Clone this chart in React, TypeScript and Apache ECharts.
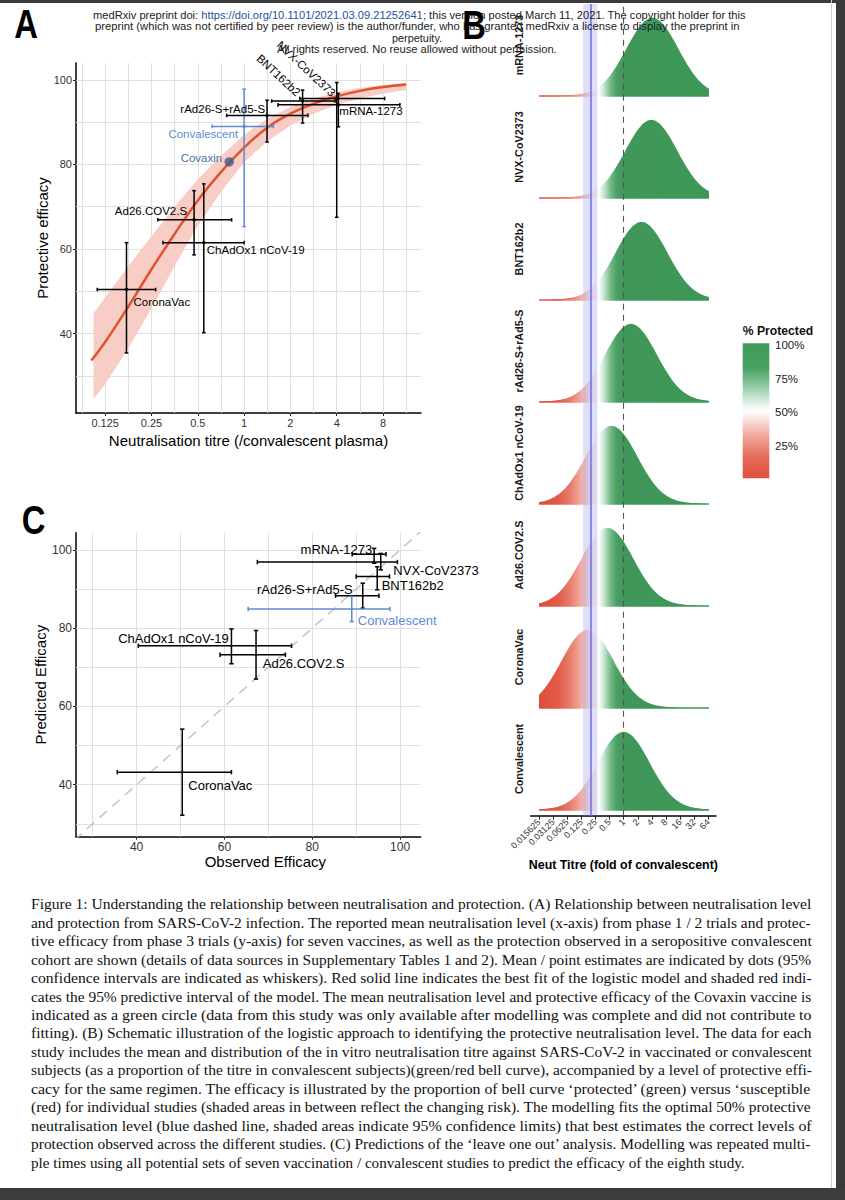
import React, { useEffect, useRef } from 'react';
import * as echarts from 'echarts';

/* ============================ DATA ============================ */
// ---- Panel A: neutralisation titre (fold of convalescent) vs protective efficacy (%)
const aNames = ['CoronaVac', 'Ad26.COV2.S', 'ChAdOx1 nCoV-19', 'Convalescent', 'rAd26-S+rAd5-S', 'BNT162b2', 'NVX-CoV2373', 'mRNA-1273'];
const aTitre = [0.172, 0.473, 0.547, 1.0, 1.41, 2.4, 4.0, 4.1];
const aTitreLo = [0.111, 0.275, 0.297, 0.62, 0.77, 1.51, 2.3, 1.66];
const aTitreHi = [0.266, 0.83, 1.0, 1.55, 2.6, 3.9, 8.2, 10.3];
const aEff = [50.4, 66.9, 61.5, 89.0, 91.6, 95.0, 95.6, 94.1];
const aEffLo = [35.4, 58.6, 40.2, 65.3, 85.3, 89.8, 67.5, 88.9];
const aEffHi = [61.5, 73.8, 75.4, 97.8, 95.2, 97.6, 99.4, 96.8];
const covaxinNames = ['Covaxin'];
const covaxinTitre = [0.8];
const covaxinEff = [80.6];
// fitted logistic curve
const fitTitre = [0.1015, 0.125, 0.177, 0.25, 0.354, 0.5, 0.707, 1, 1.414, 2, 2.83, 4, 5.66, 8, 11.3];
const fitEff = [33.6, 38.0, 46.4, 55.2, 63.6, 71.5, 78.2, 84.0, 88.7, 92.0, 94.4, 96.1, 97.4, 98.3, 98.9];
// 95% predictive band
const bandTitre = [0.105, 0.125, 0.177, 0.25, 0.354, 0.5, 0.707, 1, 1.414, 2, 2.83, 4, 5.66, 8, 11.3];
const bandUpper = [44.8, 48.5, 56.0, 63.0, 70.0, 76.5, 82.0, 87.0, 90.8, 93.6, 95.6, 97.1, 98.1, 98.8, 99.3];
const bandLower = [24.6, 28.0, 36.5, 46.0, 56.0, 65.5, 73.5, 80.5, 85.5, 89.2, 92.0, 94.1, 95.6, 96.8, 97.6];
const aXTicks = [0.125, 0.25, 0.5, 1, 2, 4, 8];
const aXTickLabels = ['0.125', '0.25', '0.5', '1', '2', '4', '8'];
const aXGrid = [0.0884, 0.125, 0.177, 0.25, 0.354, 0.5, 0.707, 1, 1.414, 2, 2.83, 4, 5.66, 8, 11.31];
const aYTicks = [40, 60, 80, 100];
const aYGrid = [30, 40, 50, 60, 70, 80, 90, 100];

// ---- Panel B: ridgeline of titre distributions (bottom row first)
const bRowNames = ['Convalescent', 'CoronaVac', 'Ad26.COV2.S', 'ChAdOx1 nCoV-19', 'rAd26-S+rAd5-S', 'BNT162b2', 'NVX-CoV2373', 'mRNA-1273'];
const bPeakTitre = [1.0, 0.17, 0.45, 0.55, 1.43, 2.4, 3.9, 4.1];
// relative bell height at offsets (in doublings) from the peak
const bShapeOffset = [-9, -8.5, -8, -7.5, -7, -6.5, -6, -5.5, -5, -4.5, -4, -3.5, -3, -2.5, -2, -1.5, -1, -0.5, 0, 0.5, 1, 1.5, 2, 2.5, 3, 3.5, 4, 4.5, 5, 5.5, 6, 6.5, 7, 7.5, 8, 8.5, 9];
const bShapeHeight = [0, 0, 0.0001, 0.0002, 0.0005, 0.0015, 0.004, 0.009, 0.021, 0.044, 0.085, 0.151, 0.249, 0.381, 0.539, 0.707, 0.857, 0.962, 1, 0.962, 0.857, 0.707, 0.539, 0.381, 0.249, 0.151, 0.085, 0.044, 0.021, 0.009, 0.004, 0.0015, 0.0005, 0.0002, 0.0001, 0, 0];
const bThreshold = [0.198];
const bThresholdLo = [0.137];
const bThresholdHi = [0.274];
const bXTicks = [0.015625, 0.03125, 0.0625, 0.125, 0.25, 0.5, 1, 2, 4, 8, 16, 32, 64];
const bXTickLabels = ['0.015625', '0.03125', '0.0625', '0.125', '0.25', '0.5', '1', '2', '4', '8', '16', '32', '64'];
const bLegendTicks = ['100%', '75%', '50%', '25%'];

// ---- Panel C: observed vs predicted efficacy (leave one out)
const cNames = ['CoronaVac', 'ChAdOx1 nCoV-19', 'Ad26.COV2.S', 'rAd26-S+rAd5-S', 'Convalescent', 'BNT162b2', 'NVX-CoV2373', 'mRNA-1273'];
const cObs = [50.4, 61.6, 67.2, 91.5, 89.0, 94.8, 95.6, 94.1];
const cObsLo = [35.6, 40.4, 59.0, 85.3, 65.4, 90.0, 67.5, 89.1];
const cObsHi = [61.6, 75.3, 73.9, 95.2, 97.7, 97.6, 99.4, 96.8];
const cPred = [43.2, 75.5, 73.2, 88.3, 84.9, 93.2, 96.9, 98.9];
const cPredLo = [32.2, 70.9, 67.0, 85.1, 81.7, 89.8, 94.9, 96.6];
const cPredHi = [54.2, 79.8, 79.4, 91.5, 88.1, 95.7, 99.1, 100.4];
const cTicks = [40, 60, 80, 100];
const cGrid = [30, 40, 50, 60, 70, 80, 90, 100];
const cDiag = [20, 110];

// ---- Text
const headerLine1 = ['medRxiv preprint doi: ', 'https://doi.org/10.1101/2021.03.09.21252641', '; this version posted March 11, 2021. The copyright holder for this'];
const headerLine2 = 'preprint (which was not certified by peer review) is the author/funder, who has granted medRxiv a license to display the preprint in';
const headerLine3 = 'perpetuity.';
const headerLine4 = 'All rights reserved. No reuse allowed without permission.';
const captionLines = [
  'Figure 1: Understanding the relationship between neutralisation and protection. (A) Relationship between neutralisation level',
  'and protection from SARS-CoV-2 infection. The reported mean neutralisation level (x-axis) from phase 1 / 2 trials and protec-',
  'tive efficacy from phase 3 trials (y-axis) for seven vaccines, as well as the protection observed in a seropositive convalescent',
  'cohort are shown (details of data sources in Supplementary Tables 1 and 2). Mean / point estimates are indicated by dots (95%',
  'confidence intervals are indicated as whiskers). Red solid line indicates the best fit of the logistic model and shaded red indi-',
  'cates the 95% predictive interval of the model. The mean neutralisation level and protective efficacy of the Covaxin vaccine is',
  'indicated as a green circle (data from this study was only available after modelling was complete and did not contribute to',
  'fitting). (B) Schematic illustration of the logistic approach to identifying the protective neutralisation level. The data for each',
  'study includes the mean and distribution of the in vitro neutralisation titre against SARS-CoV-2 in vaccinated or convalescent',
  'subjects (as a proportion of the titre in convalescent subjects)(green/red bell curve), accompanied by a level of protective effi-',
  'cacy for the same regimen. The efficacy is illustrated by the proportion of bell curve \u2018protected\u2019 (green) versus \u2018susceptible',
  '(red) for individual studies (shaded areas in between reflect the changing risk). The modelling fits the optimal 50% protective',
  'neutralisation level (blue dashed line, shaded areas indicate 95% confidence limits) that best estimates the correct levels of',
  'protection observed across the different studies. (C) Predictions of the \u2018leave one out\u2019 analysis. Modelling was repeated multi-',
  'ple times using all potential sets of seven vaccination / convalescent studies to predict the efficacy of the eighth study.',
];

/* ============================ LAYOUT / STYLE ============================ */
const SANS = '"Liberation Sans", Arial, Helvetica, sans-serif';
const SERIF = '"Liberation Serif", "Times New Roman", serif';
const GRID_COLOR = '#dcdcdc';
const BLUE = '#5f8bd2';
const RED = '#e0532f';

const gridA = { left: 76, top: 63, width: 345, height: 350 };
const aXRange = [-3.63, 3.82];
const aYRange = [21.2, 104];

const gridB1 = { left: 539, top: 4, width: 169.3, height: 811.7 };
const bClip = [-6, 6];
const bPxPer = gridB1.width / (bClip[1] - bClip[0]);
const gridB2 = { left: 530.7, top: 4, width: 185.3, height: 811.7 };
const bX2Range = [bClip[0] - (gridB1.left - gridB2.left) / bPxPer, bClip[1] + (gridB2.left + gridB2.width - gridB1.left - gridB1.width) / bPxPer];
const bYRange = [-0.056, 7.902];
const bBellHeight = 0.76;
const bFillStops: [number, string][] = [
  [-6, '#de4f3b'], [-4.6, '#e25c48'], [-3.7, '#e98172'], [-3.0, '#f1ada3'], [-2.6, '#f7d2cb'],
  [-2.2, '#fcebe8'], [-1.88, '#fff8f7'], [-1.8, '#ffffff'], [-1.5, '#d9eedf'], [-1.2, '#a5d2b3'],
  [-0.9, '#72b888'], [-0.5, '#4ba064'], [0, '#3f9859'], [6, '#3d9757'],
];

const gridC = { left: 76, top: 532.7, width: 344.7, height: 304 };
const cXRange = [26.2, 104.7];
const cYRange = [26.7, 104.4];

const aLabelStyle: Record<string, any> = {
  'CoronaVac': { dx: 7, dy: 12.7, align: 'left' },
  'Ad26.COV2.S': { dx: -7, dy: -9.3, align: 'right' },
  'ChAdOx1 nCoV-19': { dx: 3, dy: 7.6, align: 'left' },
  'Convalescent': { dx: -6, dy: 7.3, align: 'right', color: BLUE },
  'rAd26-S+rAd5-S': { dx: -2, dy: -6.7, align: 'right' },
  'BNT162b2': { dx: -4, dy: -7, align: 'right', rot: -43 },
  'NVX-CoV2373': { dx: -3, dy: -4, align: 'right', rot: -43 },
  'mRNA-1273': { dx: 1, dy: 6.4, align: 'left' },
  'Covaxin': { dx: -7, dy: -4, align: 'right', color: '#4e6fa6' },
};
const cLabelStyle: Record<string, any> = {
  'CoronaVac': { dx: 6, dy: 13.7, align: 'left' },
  'ChAdOx1 nCoV-19': { dx: -2.7, dy: -7, align: 'right' },
  'Ad26.COV2.S': { dx: 6.7, dy: 9, align: 'left' },
  'rAd26-S+rAd5-S': { dx: -10, dy: -6, align: 'right' },
  'Convalescent': { dx: 6, dy: 11.7, align: 'left', color: BLUE },
  'BNT162b2': { dx: 4.4, dy: 8.6, align: 'left' },
  'NVX-CoV2373': { dx: 12.6, dy: 8.7, align: 'left' },
  'mRNA-1273': { dx: -2, dy: -5, align: 'right' },
};

/* ============================ HELPERS ============================ */
const L2 = (v: number) => Math.log2(v);
let mctx: CanvasRenderingContext2D | null = null;
function textWidth(text: string, font: string) {
  if (!mctx) mctx = document.createElement('canvas').getContext('2d');
  mctx!.font = font;
  return mctx!.measureText(text).width;
}
function labelFor(v: number, ticks: number[], labels: string[]) {
  for (let i = 0; i < ticks.length; i++) if (Math.abs(ticks[i] - v) < 1e-6) return labels[i];
  return '';
}
function txt(text: string, x: number, y: number, font: string, fill: string, align = 'left', extra: any = {}) {
  return {
    type: 'text', x, y, z: 100, silent: true, ...extra,
    style: { text, font, fill, align, textAlign: align, verticalAlign: 'middle', textVerticalAlign: 'middle' },
  };
}
function fitTxt(text: string, x0: number, x1: number, y: number, font: string, fill: string) {
  const w = textWidth(text, font);
  return txt(text, x0, y, font, fill, 'left', { scaleX: (x1 - x0) / w });
}

function errorBars(colors: string[], cap: number, lw: number, dotR: number) {
  return function (params: any, api: any) {
    const i = params.dataIndex;
    const x = api.value(0), y = api.value(1);
    const c = api.coord([x, y]);
    const xl = api.coord([api.value(2), y])[0];
    const xh = api.coord([api.value(3), y])[0];
    const yl = api.coord([x, api.value(4)])[1];
    const yh = api.coord([x, api.value(5)])[1];
    const st = { stroke: colors[i], lineWidth: lw, fill: null };
    return {
      type: 'group',
      children: [
        { type: 'line', shape: { x1: xl, y1: c[1], x2: xh, y2: c[1] }, style: st },
        { type: 'line', shape: { x1: xl, y1: c[1] - cap, x2: xl, y2: c[1] + cap }, style: st },
        { type: 'line', shape: { x1: xh, y1: c[1] - cap, x2: xh, y2: c[1] + cap }, style: st },
        { type: 'line', shape: { x1: c[0], y1: yl, x2: c[0], y2: yh }, style: st },
        { type: 'line', shape: { x1: c[0] - cap, y1: yl, x2: c[0] + cap, y2: yl }, style: st },
        { type: 'line', shape: { x1: c[0] - cap, y1: yh, x2: c[0] + cap, y2: yh }, style: st },
        { type: 'circle', shape: { cx: c[0], cy: c[1], r: dotR }, style: { fill: colors[i] } },
      ],
    };
  };
}
function pointLabels(names: string[], styles: Record<string, any>, font: string) {
  return function (params: any, api: any) {
    const name = names[params.dataIndex];
    const s = styles[name];
    const c = api.coord([api.value(0), api.value(1)]);
    return {
      type: 'text', x: c[0] + s.dx, y: c[1] + s.dy, rotation: ((s.rot || 0) * Math.PI) / 180,
      style: { text: name, font, fill: s.color || '#000', align: s.align, textAlign: s.align, verticalAlign: 'middle', textVerticalAlign: 'middle' },
    };
  };
}
function valueAxis(o: any) {
  const tickVals = o.ticks;
  return {
    type: 'value', gridIndex: o.grid, min: o.min, max: o.max, position: o.position,
    splitLine: { show: false },
    axisLine: { show: o.showLine !== false, onZero: false, lineStyle: { color: '#000', width: 1.5 } },
    axisTick: { show: !!tickVals, length: o.tickLen || 3, customValues: tickVals, lineStyle: { color: '#222', width: 1 } },
    axisLabel: {
      show: !!tickVals, customValues: tickVals, formatter: (v: number) => labelFor(v, tickVals || [], o.labels || []),
      fontSize: o.fontSize || 11, color: '#333', margin: o.margin ?? 4, fontFamily: SANS, rotate: o.rotate || 0,
    },
    name: o.name, nameLocation: 'middle', nameGap: o.nameGap,
    nameTextStyle: { fontSize: o.nameSize || 15, color: '#000', fontFamily: SANS, fontWeight: o.nameWeight || 'normal', padding: o.namePadding || 0 },
    show: o.show !== false,
  };
}

/* ============================ OPTION ============================ */
function buildOption() {
  const series: any[] = [];

  // ---------------- Panel A ----------------
  series.push({
    type: 'line', xAxisIndex: 0, yAxisIndex: 0, data: [], z: 1, silent: true,
    markLine: {
      z: 1, silent: true, symbol: ['none', 'none'], label: { show: false },
      lineStyle: { color: GRID_COLOR, width: 0.9, type: 'solid' },
      emphasis: { disabled: true },
      data: [...aXGrid.map((v) => ({ xAxis: L2(v) })), ...aYGrid.map((v) => ({ yAxis: v }))],
    },
  });
  series.push({
    type: 'custom', xAxisIndex: 0, yAxisIndex: 0, z: 2, silent: true, clip: true,
    data: [[L2(bandTitre[0]), bandLower[0]]],
    renderItem: (params: any, api: any) => {
      const up = bandTitre.map((t, i) => api.coord([L2(t), bandUpper[i]]));
      const lo = bandTitre.map((t, i) => api.coord([L2(t), bandLower[i]])).reverse();
      return {
        type: 'group',
        children: [
          { type: 'polygon', shape: { points: [...up, ...lo] }, style: { fill: '#f7cdc5' } },
        ],
      };
    },
  });
  series.push({
    type: 'line', xAxisIndex: 0, yAxisIndex: 0, z: 3, silent: true, smooth: 0.4,
    showSymbol: false, symbol: 'none', lineStyle: { color: RED, width: 2.5 },
    data: fitTitre.map((t, i) => [L2(t), fitEff[i]]),
  });
  series.push({
    type: 'custom', xAxisIndex: 0, yAxisIndex: 0, z: 4, silent: true,
    renderItem: errorBars(aNames.map((n) => (n === 'Convalescent' ? BLUE : '#000')), 1.8, 1.5, 1.7),
    data: aNames.map((n, i) => [L2(aTitre[i]), aEff[i], L2(aTitreLo[i]), L2(aTitreHi[i]), aEffLo[i], aEffHi[i]]),
  });
  series.push({
    type: 'scatter', xAxisIndex: 0, yAxisIndex: 0, z: 5, silent: true, symbolSize: 9.5,
    itemStyle: { color: '#3c5b8e' },
    data: covaxinTitre.map((t, i) => [L2(t), covaxinEff[i]]),
  });
  series.push({
    type: 'custom', xAxisIndex: 0, yAxisIndex: 0, z: 6, silent: true,
    renderItem: pointLabels([...aNames, ...covaxinNames], aLabelStyle, `11.5px ${SANS}`),
    data: [...aNames.map((n, i) => [L2(aTitre[i]), aEff[i]]), ...covaxinNames.map((n, i) => [L2(covaxinTitre[i]), covaxinEff[i]])],
  });

  // ---------------- Panel B ----------------
  const fillGrad = new echarts.graphic.LinearGradient(
    gridB1.left, 0, gridB1.left + gridB1.width, 0,
    bFillStops.map(([v, c]) => ({ offset: (v - bClip[0]) / (bClip[1] - bClip[0]), color: c })),
    true,
  );
  series.push({
    type: 'custom', xAxisIndex: 1, yAxisIndex: 1, z: 2, silent: true, clip: true,
    data: bRowNames.map((n, r) => [L2(bPeakTitre[r]), r]),
    renderItem: (params: any, api: any) => {
      const m = api.value(0), r = api.value(1);
      const pts = bShapeOffset.map((o, k) => api.coord([m + o, r + bShapeHeight[k] * bBellHeight]));
      return {
        type: 'polygon',
        shape: { points: pts, smooth: 0.35 },
        style: { fill: fillGrad, stroke: fillGrad, lineWidth: 1.3 },
      };
    },
  });
  series.push({
    type: 'line', xAxisIndex: 1, yAxisIndex: 1, z: 10, silent: true, data: [],
    markArea: {
      z: 10, silent: true, itemStyle: { color: 'rgba(150,150,236,0.3)' }, label: { show: false },
      data: [[{ xAxis: L2(bThresholdLo[0]) }, { xAxis: L2(bThresholdHi[0]) }]],
    },
    markLine: {
      z: 11, silent: true, symbol: ['none', 'none'], label: { show: false },
      data: [
        { xAxis: L2(bThreshold[0]), lineStyle: { color: '#7474e4', width: 1.6, type: 'solid' } },
        { xAxis: L2(1), lineStyle: { color: '#555', width: 1.1, type: [6, 5] } },
      ],
    },
  });
  series.push({
    type: 'custom', xAxisIndex: 2, yAxisIndex: 2, z: 11, silent: true, clip: false,
    renderItem: (params: any, api: any) => {
      const c = api.coord([bX2Range[0], api.value(1)]);
      return {
        type: 'text', x: c[0] - 11.8, y: c[1], rotation: Math.PI / 2,
        style: { text: bRowNames[params.dataIndex], font: `bold 10.8px ${SANS}`, fill: '#1a1a1a', align: 'center', textAlign: 'center', verticalAlign: 'middle', textVerticalAlign: 'middle' },
      };
    },
    data: bRowNames.map((n, r) => [bX2Range[0], r + 0.5]),
  });

  // ---------------- Panel C ----------------
  series.push({
    type: 'line', xAxisIndex: 3, yAxisIndex: 3, data: [], z: 1, silent: true,
    markLine: {
      z: 1, silent: true, symbol: ['none', 'none'], label: { show: false },
      lineStyle: { color: GRID_COLOR, width: 0.9, type: 'solid' },
      data: [...cGrid.map((v) => ({ xAxis: v })), ...cGrid.map((v) => ({ yAxis: v }))],
    },
  });
  series.push({
    type: 'line', xAxisIndex: 3, yAxisIndex: 3, z: 2, silent: true, clip: true,
    showSymbol: false, symbol: 'none', lineStyle: { color: '#c4c4c4', width: 1.5, type: [10, 7] },
    data: cDiag.map((v) => [v, v]),
  });
  series.push({
    type: 'custom', xAxisIndex: 3, yAxisIndex: 3, z: 4, silent: true,
    renderItem: errorBars(cNames.map((n) => (n === 'Convalescent' ? BLUE : '#000')), 2.2, 1.5, 1.2),
    data: cNames.map((n, i) => [cObs[i], cPred[i], cObsLo[i], cObsHi[i], cPredLo[i], cPredHi[i]]),
  });
  series.push({
    type: 'custom', xAxisIndex: 3, yAxisIndex: 3, z: 6, silent: true,
    renderItem: pointLabels(cNames, cLabelStyle, `13px ${SANS}`),
    data: cNames.map((n, i) => [cObs[i], cPred[i]]),
  });

  // ---------------- graphics ----------------
  const graphic: any[] = [];
  graphic.push({ type: 'rect', shape: { x: 0, y: 0, width: 845, height: 3 }, style: { fill: '#3c3c3c' }, z: 200 });
  graphic.push({ type: 'rect', shape: { x: 836, y: 0, width: 9, height: 1200 }, style: { fill: '#3a3a3a' }, z: 200 });
  graphic.push({ type: 'rect', shape: { x: 831, y: 0, width: 1, height: 1188 }, style: { fill: '#d0d0d0' }, z: 200 });
  graphic.push({ type: 'rect', shape: { x: 0, y: 1188, width: 845, height: 12 }, style: { fill: '#3c3c3c' }, z: 200 });

  const hFont = `11.5px ${SANS}`;
  const w1 = headerLine1.map((s) => textWidth(s, hFont));
  const tot1 = w1[0] + w1[1] + w1[2];
  const h1x0 = 93, h1x1 = 746;
  graphic.push({
    type: 'group', x: h1x0, y: 14.5, scaleX: (h1x1 - h1x0) / tot1, z: 100,
    children: [
      txt(headerLine1[0], 0, 0, hFont, '#222'),
      txt(headerLine1[1], w1[0], 0, hFont, '#1f4f9e'),
      txt(headerLine1[2], w1[0] + w1[1], 0, hFont, '#222'),
    ],
  });
  graphic.push(fitTxt(headerLine2, 95, 740, 26.2, hFont, '#222'));
  graphic.push(txt(headerLine3, 417, 37.8, hFont, '#222', 'center', { scaleX: 0.95 }));
  graphic.push(fitTxt(headerLine4, 277, 557, 49.2, hFont, '#222'));

  const pFont = `bold 40px ${SANS}`;
  graphic.push(txt('A', 26, 24, pFont, '#000', 'center', { scaleX: 0.82, z: 120 }));
  graphic.push(txt('B', 474, 25, pFont, '#000', 'center', { scaleX: 0.82, z: 120 }));
  graphic.push(txt('C', 33.5, 520, pFont, '#000', 'center', { scaleX: 0.82, z: 120 }));

  const lgX = 742.7, lgY = 343.3, lgW = 26.6, lgH = 135;
  graphic.push(txt('% Protected', lgX, 331, `bold 12.2px ${SANS}`, '#111', 'left'));
  graphic.push({
    type: 'rect', shape: { x: lgX, y: lgY, width: lgW, height: lgH }, z: 100,
    style: {
      fill: new echarts.graphic.LinearGradient(0, 0, 0, 1, [
        { offset: 0, color: '#3f9a5a' }, { offset: 0.18, color: '#48a062' }, { offset: 0.3, color: '#86c299' },
        { offset: 0.42, color: '#d3eadb' }, { offset: 0.5, color: '#ffffff' }, { offset: 0.58, color: '#f9dad4' },
        { offset: 0.7, color: '#f0a296' }, { offset: 0.84, color: '#e56b59' }, { offset: 1, color: '#df5240' },
      ]),
    },
  });
  bLegendTicks.forEach((t, i) => {
    graphic.push(txt(t, 775, lgY + 1.7 + i * 33.6, `11.5px ${SANS}`, '#222', 'left'));
  });

  const capFont = `15.3px ${SERIF}`;
  captionLines.forEach((line, k) => {
    const y = 904 + k * 18.43;
    const last = k === captionLines.length - 1;
    graphic.push(fitTxt(line, 31, last ? 745 : 812, y, capFont, '#111'));
  });

  return {
    animation: false,
    backgroundColor: '#ffffff',
    textStyle: { fontFamily: SANS },
    grid: [
      { ...gridA, outerBoundsMode: 'none', containLabel: false },
      { ...gridB1, outerBoundsMode: 'none', containLabel: false },
      { ...gridB2, outerBoundsMode: 'none', containLabel: false },
      { ...gridC, outerBoundsMode: 'none', containLabel: false },
    ],
    xAxis: [
      valueAxis({ grid: 0, min: aXRange[0], max: aXRange[1], position: 'bottom', ticks: aXTicks.map(L2), labels: aXTickLabels, name: 'Neutralisation titre (/convalescent plasma)', nameGap: 19.5, margin: 4 }),
      valueAxis({ grid: 1, min: bClip[0], max: bClip[1], position: 'bottom', show: false }),
      valueAxis({ grid: 2, min: bX2Range[0], max: bX2Range[1], position: 'bottom', ticks: bXTicks.map(L2), labels: bXTickLabels, fontSize: 9, rotate: 45, margin: 5, tickLen: 4, name: 'Neut Titre (fold of convalescent)', nameGap: 43, nameSize: 12.4, nameWeight: 'bold' }),
      valueAxis({ grid: 3, min: cXRange[0], max: cXRange[1], position: 'bottom', ticks: cTicks, labels: cTicks.map(String), fontSize: 12, margin: 4, name: 'Observed Efficacy', nameGap: 14.5, namePadding: [0, 0, 0, 34] }),
    ],
    yAxis: [
      valueAxis({ grid: 0, min: aYRange[0], max: aYRange[1], position: 'left', ticks: aYTicks, labels: aYTicks.map(String), name: 'Protective efficacy', nameGap: 25, margin: 4 }),
      valueAxis({ grid: 1, min: bYRange[0], max: bYRange[1], position: 'left', show: false }),
      valueAxis({ grid: 2, min: bYRange[0], max: bYRange[1], position: 'left', show: false }),
      valueAxis({ grid: 3, min: cYRange[0], max: cYRange[1], position: 'left', ticks: cTicks, labels: cTicks.map(String), fontSize: 12, name: 'Predicted Efficacy', nameGap: 25, margin: 4 }),
    ],
    series,
    graphic,
  };
}

export default function App() {
  const ref = useRef<HTMLDivElement>(null);
  useEffect(() => {
    const chart = echarts.init(ref.current!, null, { renderer: 'svg', width: 845, height: 1200 });
    chart.setOption(buildOption() as any);
    return () => chart.dispose();
  }, []);
  return (
    <div
      ref={ref}
      style={{ position: 'absolute', left: 0, top: 0, width: 845, height: 1200, background: '#ffffff', overflow: 'hidden' }}
    />
  );
}
